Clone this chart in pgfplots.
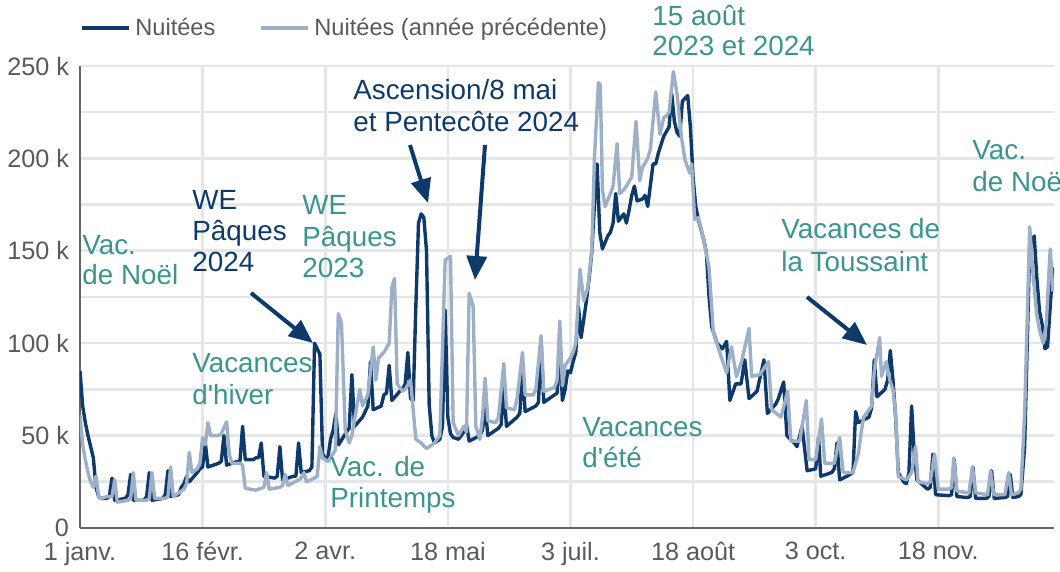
\documentclass[border=0pt]{standalone}
\usepackage{fontspec}
\setmainfont{Liberation Sans}
\usepackage{pgfplots}
\pgfplotsset{compat=1.18}
\usetikzlibrary{arrows.meta}
\definecolor{navy}{HTML}{0D3A6B}
\definecolor{lightser}{HTML}{9DB0C7}
\definecolor{teal2}{HTML}{3A958F}
\definecolor{txtgray}{HTML}{5A5A5A}
\definecolor{gridgray}{HTML}{E6E6E6}
\definecolor{axgray}{HTML}{666666}
\newcommand{\annfont}{\fontsize{13.9}{16}\selectfont}
\begin{document}
\begin{tikzpicture}
\path[use as bounding box] (-40pt,-22pt) rectangle (490pt,264pt);
\begin{axis}[
  at={(0pt,0pt)}, anchor=south west,
  scale only axis, width=487.1pt, height=231pt,
  xmin=0, xmax=365.5, ymin=0, ymax=250,
  axis x line*=bottom, axis y line*=left,
  axis line style={draw=axgray, line width=1.4pt, -},
  xtick={0,46,92,138,184,230,276,322},
  xticklabels={1 janv.,16 févr.,2 avr.,18 mai,3 juil.,18 août,3 oct.,18 nov.},
  ytick={0,50,100,150,200,250},
  yticklabels={0,50 k,100 k,150 k,200 k,250 k},
  minor ytick={25,75,125,175,225},
  xmajorgrids, ymajorgrids, yminorgrids,
  grid style={draw=gridgray, line width=1.3pt},
  minor grid style={draw=gridgray, line width=1.3pt},
  major tick length=0pt, minor tick length=0pt,
  /pgf/number format/assume math mode=true,
  tick label style={font=\fontsize{12.6}{14}\selectfont, text=txtgray},
  yticklabel style={xshift=-2pt},
  xticklabel style={yshift=-3.5pt},
  legend style={at={(0,1)}, anchor=west, yshift=19pt, draw=none, fill=none,
    legend columns=2, font=\fontsize{11.8}{14}\selectfont, text=txtgray,
    /tikz/every even column/.append style={column sep=20pt}, inner sep=0pt},
  legend cell align=left,
  legend image code/.code={\draw[#1, line width=2pt] (0pt,0pt) -- (23.5pt,0pt);},
  clip=true,
]
\addplot[navy, line width=1.7pt, line join=round, no markers] coordinates {
(0,85) (1,66) (2,57) (3,50) (4,44) (5,38) (6,22) (7,17) (8,16) (10,16)
(11,17) (12,27) (13,15) (17,16) (18,18) (19,29) (20,15) (24,15) (25,17) (26,30) (27,15) (31,16) (32,18) (33,31) (34,17) (37,18)
(38,22) (39,24) (40,28) (41,25) (44,30) (45,32) (46,33) (47,46) (48,33) (52,35) (53,36) (54,50) (55,34) (59,36) (60,36) (61,55) (62,37) (65,37) (66,38) (67,38) (68,46) (69,28) (73,27) (74,28) (75,44) (76,26) (80,28) (81,28) (82,46) (83,30) (86,31) (87,33) (88,100) (89,97) (90,94) (91,40) (92,38) (93,38)
(94,48) (95,53) (96,62) (97,45) (100,52) (101,54) (102,83) (103,55) (106,60) (107,63) (108,66) (109,90) (110,64) (113,66) (114,72) (115,73) (116,88) (117,69) (120,74) (121,75) (122,78) (123,95) (124,70) (125,69) (126,120) (127,165) (128,170) (129,168) (130,150) (131,67) (132,50) (133,46) (135,48) (136,55) (137,118) (138,60) (139,51) (140,49) (142,48) (143,50) (144,52) (145,56) (146,47) (150,50) (151,53) (152,66) (153,50) (157,54) (158,56) (159,76) (160,55) (164,60) (165,62) (166,86) (167,63) (171,66) (172,68) (173,100) (174,68) (178,72) (179,73) (180,97) (181,69)
(182,75) (183,85) (184,84) (185,90) (186,95) (187,120) (188,103) (190,123) (191,135) (192,149) (193,175) (194,197) (195,160) (196,151) (198,158) (199,160) (200,165) (201,181) (202,166) (204,170) (205,165) (206,172) (207,180) (208,185) (209,177) (211,178) (212,180) (213,174) (215,197) (216,197) (217,203) (219,212) (221,217) (222,235) (223,220) (224,214) (225,212) (226,231) (228,234) (229,217) (230,190) (231,174) (232,167) (234,156) (235,149) (236,125)
(237,109) (239,100) (241,97) (242.6,101) (243.8,69) (246,78) (248,78) (249.4,91) (251,70) (254,74) (256.6,91) (257.9,62) (261,67) (262,70) (264,79) (265.2,50) (268,46) (269,44) (270.9,55) (272.8,31) (276,32) (277.1,49) (277.9,28) (282,30) (283,32) (284,46) (285,26) (289,29) (290,30) (291,63) (292,57) (296,60) (297,65) (298,91) (299,71) (302,75) (303,80) (304,96) (305,80) (306,60) (307,30) (309,25) (310,24) (311,30) (312,66) (313,40) (314,26) (318,21) (319,22) (320,40) (321,18) (326,17.5) (327,18) (328,37) (329,17) (333,16.5) (334,17) (335,33) (336,16) (340,16) (341,17) (342,31) (343,16) (347,16.5) (348,17) (349,29) (350,16.5) (352,17) (353,18) (354.4,44) (356.3,152) (358,158) (359,135) (360,117) (361,110) (362,97) (363,98) (364,120) (365,141)
};
\addlegendentry{Nuitées}
\addplot[lightser, line width=1.7pt, line join=round, no markers] coordinates {
(0,61) (1,45) (2,37) (3,30) (4,25) (5,22) (6,28) (7,17) (8,16) (10,17)
(12,17) (13,26) (14,14) (18,15) (19,16) (20,30) (21,15) (25,15) (26,16) (27,30) (28,16) (32,16) (33,17) (34,33) (35,17) (39,21) (40,24) (41,41) (42,30) (44,32) (45,35) (46,49) (47,45) (48,57) (49,50) (52,50) (53,51) (55,57.5) (56,40) (57,35) (60,35) (61,34) (62,21.5) (66,20.5) (69,22) (70,30) (71,21) (75,22) (76,23) (77,29) (78,23) (82,26) (83,27) (84,30) (85,25) (88,27) (89,28) (90,44) (91,38) (93,36) (95.8,42) (96.9,116) (98.1,111) (99.5,53) (101,46) (102,50) (104,67) (105,75) (106,66) (108,72) (110,98) (111,80) (112,92) (114,95) (116,100) (117,130) (118,135) (119,78) (121,74) (122,75) (124,80) (126,48) (128,46) (130,43) (133,46) (135,50) (137,145) (139,147) (140,57) (142,50) (144,55) (145,52) (146,127) (147.5,120) (148.5,55) (150,48) (151,60) (152,81) (153,58) (156,57) (157,60) (159,89) (160,65) (163,64) (164,70) (166,95) (167,72) (170,72) (171,75) (173,104) (174,74) (178,76) (179,80) (180,112) (181,77)
(182,88) (184,92) (185,95) (186,100) (187.6,140) (189,123) (190.5,130) (192,150) (193,200) (194.5,241) (195.2,240) (196,183) (197,174) (199,181) (200,185) (201.5,208) (202.5,181) (204,183) (205,185) (207,190) (208.6,220) (210,188) (211,195) (212,197.5) (213,200) (214,205) (216,236) (217.6,213) (219,222) (220,223) (221,225) (222.6,247) (224,235) (225.6,212) (227,199) (228.8,192) (229.5,197) (230.6,167) (232,168) (234,156) (236,141)
(237.6,106) (240,95) (242.6,84) (244.4,98) (246.3,82) (248.2,90) (251,108) (252,82) (255,83) (258.3,90) (259.5,64) (263,60) (265.5,74) (266.7,47) (270,47) (272.5,69) (273.5,37) (276,37) (278.2,59) (279.4,35) (283,35) (285,49) (286.3,30) (290,30) (292,40) (293,51) (294,60) (297,66) (298,85) (300,103) (300.7,82) (302.5,90) (303.8,80) (305,75) (306,62) (307,28) (310,26) (312,30) (313.5,44) (314.4,25) (318,24) (319,25) (320.6,40) (322,21) (326,21) (327,22) (327.8,38) (329,20) (333.5,19) (334.8,33) (336,19) (340.5,18) (341.6,31) (342.8,18) (347,18) (348.4,30) (349.5,18) (352,19) (353,21) (354.4,62) (356.3,163) (357.5,138) (359,115) (360,107) (361.4,100) (362.5,110) (364,151) (365,128)
};
\addlegendentry{Nuitées (année précédente)}
\end{axis}
% annotations
\begin{scope}[every node/.style={anchor=base west, inner sep=0pt, font=\annfont}]
\node[text=teal2] at (1pt,136.5pt) {Vac.};
\node[text=teal2] at (1pt,121.5pt) {de Noël};
\node[text=navy] at (56pt,159pt) {WE};
\node[text=navy] at (56pt,143.5pt) {Pâques};
\node[text=navy] at (56pt,128pt) {2024};
\node[text=teal2] at (111pt,156.5pt) {WE};
\node[text=teal2] at (111pt,140.5pt) {Pâques};
\node[text=teal2] at (111pt,125pt) {2023};
\node[text=teal2] at (56pt,77.5pt) {Vacances};
\node[text=teal2] at (56pt,61.5pt) {d\textquotesingle hiver};
\node[text=navy] at (136.5pt,214pt) {Ascension/8 mai};
\node[text=navy] at (136.5pt,198pt) {et Pentecôte 2024};
\node[text=teal2] at (286pt,251pt) {15 août};
\node[text=teal2] at (286pt,236pt) {2023 et 2024};
\node[text=teal2] at (125pt,25.5pt) {Vac. de};
\node[text=teal2] at (125pt,10pt) {Printemps};
\node[text=teal2] at (251pt,45.5pt) {Vacances};
\node[text=teal2] at (251pt,30pt) {d\textquotesingle été};
\node[text=teal2] at (350.5pt,144.5pt) {Vacances de};
\node[text=teal2] at (350.5pt,128pt) {la Toussaint};
\node[text=teal2] at (446pt,184pt) {Vac.};
\node[text=teal2] at (446pt,168pt) {de Noël};
\end{scope}
\begin{scope}[navy, line width=2pt, -{Triangle[length=12pt,width=10pt]}]
\draw (85.5pt,117.5pt) -- (116.5pt,92.5pt);
\draw (165pt,191.5pt) -- (174pt,162.5pt);
\draw (202.5pt,191.5pt) -- (197.5pt,124pt);
\draw (363.5pt,115.5pt) -- (393.5pt,91.5pt);
\end{scope}
\end{tikzpicture}
\end{document}
